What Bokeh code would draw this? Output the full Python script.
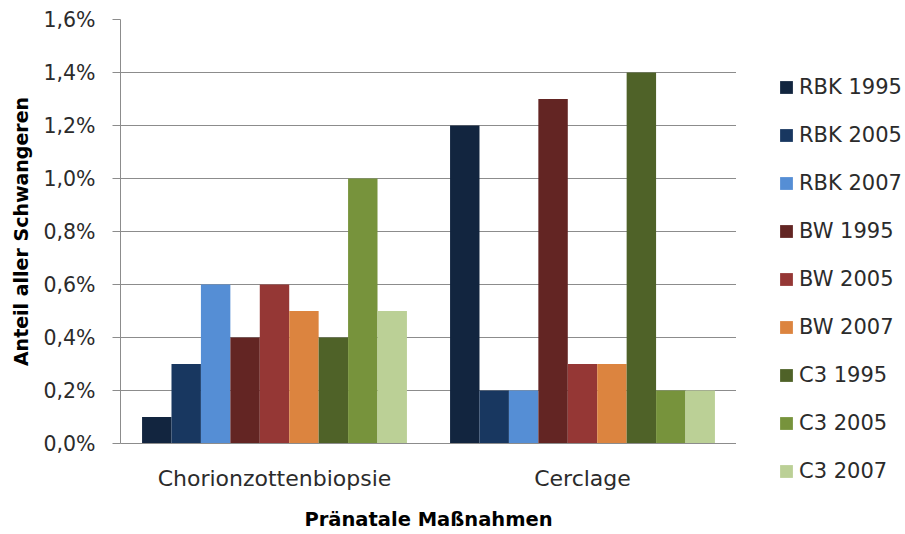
from bokeh.plotting import figure
from bokeh.layouts import row
from bokeh.models import ColumnDataSource, Legend, LegendItem, FixedTicker, Range1d
from bokeh.embed import file_html
from bokeh.resources import INLINE

categories = ["Chorionzottenbiopsie", "Cerclage"]
series_names = ["RBK 1995", "RBK 2005", "RBK 2007",
                "BW 1995", "BW 2005", "BW 2007",
                "C3 1995", "C3 2005", "C3 2007"]
rbk_1995 = [0.1, 1.2]
rbk_2005 = [0.3, 0.2]
rbk_2007 = [0.6, 0.2]
bw_1995 = [0.4, 1.3]
bw_2005 = [0.6, 0.3]
bw_2007 = [0.5, 0.3]
c3_1995 = [0.4, 1.4]
c3_2005 = [1.0, 0.2]
c3_2007 = [0.5, 0.2]
series_values = [rbk_1995, rbk_2005, rbk_2007, bw_1995, bw_2005, bw_2007,
                 c3_1995, c3_2005, c3_2007]
colors = ["#12253F", "#183760", "#558ED5", "#632523", "#953735", "#DC843F",
          "#4F6228", "#77933C", "#BBD096"]
y_ticks = [0.0, 0.2, 0.4, 0.6, 0.8, 1.0, 1.2, 1.4, 1.6]
y_tick_labels = ["0,0%", "0,2%", "0,4%", "0,6%", "0,8%", "1,0%", "1,2%", "1,4%", "1,6%"]

FONT = "DejaVu Sans"
TXT = "#2B2B2B"
GRID = "#8C8C8C"

p = figure(width=736, height=534, x_range=Range1d(0, len(categories)),
           y_range=Range1d(0, 1.6), output_backend="svg", toolbar_location=None,
           min_border_left=120, min_border_right=0, min_border_top=19,
           min_border_bottom=91)
p.frame_align = False
p.outline_line_color = None
p.xgrid.grid_line_color = None
p.ygrid.grid_line_color = GRID
p.ygrid.ticker = FixedTicker(ticks=y_ticks)

n = len(series_names)
group_width = 0.86
bar_w = group_width / n
cat_centers = [i + 0.5 for i in range(len(categories))]

# legend panel to the right of the plot (its own figure, same series sources,
# data kept outside its view so that only the legend shows)
pl = figure(width=169, height=534, output_backend="svg", toolbar_location=None,
            x_range=Range1d(10, 11), y_range=Range1d(10, 11),
            x_axis_location=None, y_axis_location=None,
            min_border_left=0, min_border_right=0, min_border_top=33,
            min_border_bottom=0)
pl.frame_align = False
pl.outline_line_color = None
pl.xgrid.visible = False
pl.ygrid.visible = False

items = []
for i, (name, vals, col) in enumerate(zip(series_names, series_values, colors)):
    xs = [c + (i - (n - 1) / 2) * bar_w for c in cat_centers]
    src = ColumnDataSource(dict(x=xs, top=vals))
    p.vbar(x="x", top="top", bottom=0, width=bar_w, source=src,
           fill_color=col, line_color=None)
    rl = pl.vbar(x="x", top="top", bottom=0, width=bar_w, source=src,
                 fill_color=col, line_color=None)
    items.append(LegendItem(label=name, renderers=[rl]))

# axes
p.yaxis.ticker = FixedTicker(ticks=y_ticks)
p.yaxis.major_label_overrides = {t: l for t, l in zip(y_ticks, y_tick_labels)}
p.yaxis.axis_line_color = GRID
p.yaxis.major_tick_line_color = GRID
p.yaxis.major_tick_out = 8
p.yaxis.major_tick_in = 0
p.yaxis.minor_tick_line_color = None
p.yaxis.major_label_standoff = 17
p.yaxis.major_label_text_font = FONT
p.yaxis.major_label_text_font_size = "20.5px"
p.yaxis.major_label_text_color = TXT
p.yaxis.axis_label = "Anteil aller Schwangeren"
p.yaxis.axis_label_text_font = FONT
p.yaxis.axis_label_text_font_size = "19px"
p.yaxis.axis_label_text_font_style = "bold"
p.yaxis.axis_label_text_color = "#000000"
p.yaxis.axis_label_standoff = 8

p.xaxis.ticker = FixedTicker(ticks=cat_centers)
p.xaxis.major_label_overrides = {c: l for c, l in zip(cat_centers, categories)}
p.xaxis.axis_line_color = GRID
p.xaxis.major_tick_line_color = None
p.xaxis.minor_tick_line_color = None
p.xaxis.major_tick_out = 0
p.xaxis.major_tick_in = 0
p.xaxis.major_label_standoff = 22
p.xaxis.major_label_text_font = FONT
p.xaxis.major_label_text_font_size = "22px"
p.xaxis.major_label_text_color = TXT
p.xaxis.axis_label = "Pränatale Maßnahmen"
p.xaxis.axis_label_text_font = FONT
p.xaxis.axis_label_text_font_size = "19.5px"
p.xaxis.axis_label_text_font_style = "bold"
p.xaxis.axis_label_text_color = "#000000"
p.xaxis.axis_label_standoff = 14

legend = Legend(items=items, location="top_left", border_line_color=None,
                background_fill_alpha=0, glyph_width=16, glyph_height=16,
                label_standoff=5, spacing=24, label_height=24, padding=10, margin=42,
                label_text_font=FONT, label_text_font_size="21px",
                label_text_color=TXT)
pl.add_layout(legend, "center")

layout = row(p, pl, spacing=0)
open("out.html", "w").write(file_html(layout, INLINE))
